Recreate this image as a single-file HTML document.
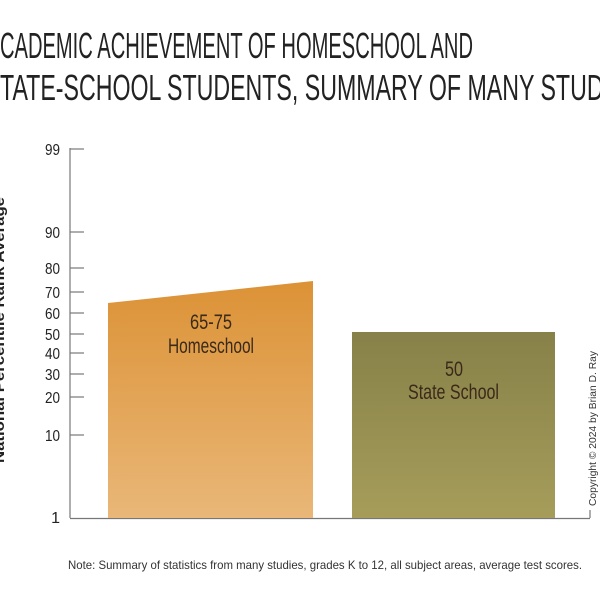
<!DOCTYPE html>
<html><head><meta charset="utf-8"><style>
html,body{margin:0;padding:0;background:#fff;width:600px;height:600px;overflow:hidden}
svg text{font-family:"Liberation Sans Narrow","Liberation Sans",sans-serif}
</style></head><body>
<svg width="600" height="600" viewBox="0 0 600 600" xmlns="http://www.w3.org/2000/svg">
<defs>
<linearGradient id="g1" x1="0" y1="0" x2="0" y2="1"><stop offset="0" stop-color="#dc9236"/><stop offset="1" stop-color="#e9b778"/></linearGradient>
<linearGradient id="g2" x1="0" y1="0" x2="0" y2="1"><stop offset="0" stop-color="#878149"/><stop offset="1" stop-color="#a69d5a"/></linearGradient>
</defs>
<text x="0" y="58" font-size="36" fill="#222" textLength="473" lengthAdjust="spacingAndGlyphs">CADEMIC ACHIEVEMENT OF HOMESCHOOL AND</text>
<text x="0" y="100" font-size="36" fill="#222" textLength="610" lengthAdjust="spacingAndGlyphs">TATE-SCHOOL STUDENTS, SUMMARY OF MANY STUDI</text>
<text transform="translate(4,463) rotate(-90)" font-size="15" font-weight="bold" fill="#222" textLength="266" lengthAdjust="spacingAndGlyphs">National Percentile Rank Average</text>
<g stroke="#777" stroke-width="1.2">
<line x1="70" y1="148" x2="70" y2="518"/>
<line x1="70" y1="518.5" x2="590" y2="518.5"/>
<line x1="590" y1="510" x2="590" y2="518"/>
<line x1="70" y1="149" x2="84" y2="149"/>
<line x1="70" y1="232" x2="84" y2="232"/>
<line x1="70" y1="268" x2="84" y2="268"/>
<line x1="70" y1="292" x2="84" y2="292"/>
<line x1="70" y1="313" x2="84" y2="313"/>
<line x1="70" y1="334" x2="84" y2="334"/>
<line x1="70" y1="353" x2="84" y2="353"/>
<line x1="70" y1="374" x2="84" y2="374"/>
<line x1="70" y1="397" x2="84" y2="397"/>
<line x1="70" y1="435" x2="84" y2="435"/>
</g>
<g font-size="16" fill="#222" text-anchor="end">
<text x="60" y="155" textLength="15" lengthAdjust="spacingAndGlyphs">99</text><text x="60" y="238" textLength="15" lengthAdjust="spacingAndGlyphs">90</text><text x="60" y="274" textLength="15" lengthAdjust="spacingAndGlyphs">80</text>
<text x="60" y="298" textLength="15" lengthAdjust="spacingAndGlyphs">70</text><text x="60" y="319" textLength="15" lengthAdjust="spacingAndGlyphs">60</text><text x="60" y="340" textLength="15" lengthAdjust="spacingAndGlyphs">50</text>
<text x="60" y="359" textLength="15" lengthAdjust="spacingAndGlyphs">40</text><text x="60" y="380" textLength="15" lengthAdjust="spacingAndGlyphs">30</text><text x="60" y="403" textLength="15" lengthAdjust="spacingAndGlyphs">20</text>
<text x="60" y="441" textLength="15" lengthAdjust="spacingAndGlyphs">10</text><text x="60" y="523">1</text>
</g>
<polygon points="108,303 313,281 313,518 108,518" fill="url(#g1)"/>
<rect x="352" y="332" width="203" height="186" fill="url(#g2)"/>
<g font-size="21" fill="#3a2a1a">
<text x="190" y="329" textLength="42" lengthAdjust="spacingAndGlyphs">65-75</text>
<text x="168" y="353" textLength="86" lengthAdjust="spacingAndGlyphs">Homeschool</text>
<text x="445" y="376" textLength="18" lengthAdjust="spacingAndGlyphs">50</text>
<text x="408" y="399" textLength="91" lengthAdjust="spacingAndGlyphs">State School</text>
</g>
<text transform="translate(596,506) rotate(-90)" font-size="10" fill="#333" style="font-family:'Liberation Sans',sans-serif" textLength="155" lengthAdjust="spacingAndGlyphs">Copyright © 2024  by Brian D. Ray</text>
<text x="68" y="569" font-size="12" fill="#333" textLength="514" lengthAdjust="spacingAndGlyphs">Note: Summary of statistics from many studies, grades K to 12, all subject areas, average test scores.</text>
</svg>
</body></html>
